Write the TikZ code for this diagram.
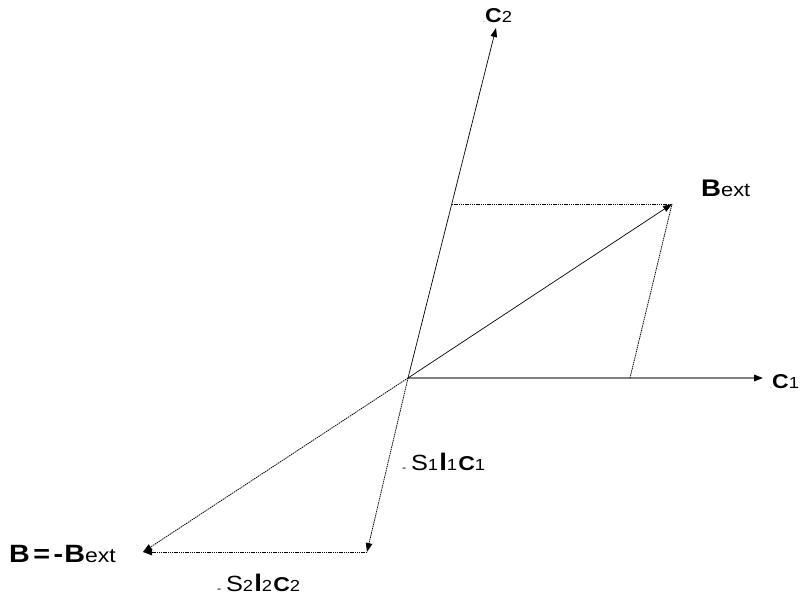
\documentclass[tikz,border=0pt]{standalone}
\usepackage{fontspec}
\setmainfont{Liberation Sans}
\usetikzlibrary{arrows.meta, positioning}
\definecolor{axisgray}{RGB}{128,128,128}
\tikzset{
    axis/.style={draw=axisgray, line width=1.6pt, -{Triangle[length=9pt,width=6.5pt,color=black]}},
    vec/.style={draw=black, line width=0.7pt, -{Triangle[length=9pt,width=6.5pt]}},
    proj/.style={draw=black, line width=0.8pt, dash pattern=on 1.4pt off 0.8pt},
    projvec/.style={proj, -{Triangle[length=9pt,width=6.5pt]}},
    lab/.style={inner sep=0pt, xscale=1.15}
}
\newcommand{\bigC}{{\fontsize{20}{20}\selectfont\bfseries C}}
\newcommand{\bigB}{{\fontsize{25}{25}\selectfont\bfseries B}}
\newcommand{\lowsub}[1]{{\fontsize{16}{16}\selectfont #1}}
\newcommand{\extsub}{{\fontsize{19}{19}\selectfont ext}}
\newcommand{\tinydot}{{\fontsize{6}{6}\selectfont .}}
\newcommand{\lowminus}{{\fontsize{11}{11}\selectfont\raisebox{-1.5pt}{-}}}
\newcommand{\slc}[1]{\lowminus\hspace{4pt}{\fontsize{22}{22}\selectfont S}\lowsub{#1}\hspace{1pt}{\fontsize{24}{24}\selectfont\bfseries l}\lowsub{#1}\hspace{1pt}\bigC\lowsub{#1}}
\begin{document}
\begin{tikzpicture}[x=1pt, y=-1pt]
    \useasboundingbox (0,0) rectangle (801,604);

    \coordinate (o) at (408,378);
    \coordinate (c1tip) at (763,378);
    \coordinate (c2tip) at (496,28);
    \coordinate (bext) at (672,204);
    \coordinate (onc2) at (452,204);
    \coordinate (onc1) at (630,378);
    \coordinate (foot) at (367,552);
    \coordinate (bneg) at (143,552);

    % axes and field
    \draw[axis] (o) -- (c1tip);
    \draw[vec] (o) -- (c2tip);
    \draw[vec] (o) -- (bext);
    \draw[proj] (onc2) -- (bext);
    \draw[proj] (onc1) -- (bext);

    % reversed field
    \draw[projvec] (o) -- (bneg);
    \draw[projvec] (o) -- (foot);
    \draw[projvec] (foot) -- (bneg);

    \node[lab, anchor=base west] (c1lab) at (770,388) {\tinydot\bigC\lowsub{1}};
    \node[lab, anchor=base west] (c2lab) at (483,23) {\tinydot\bigC\lowsub{2}};
    \node[lab, anchor=base west] (bextlab) at (701,197) {{\fontsize{24}{24}\selectfont\bfseries B}\extsub};
    \node[lab, anchor=base west] (s1lab) at (402,470) {\slc{1}};
    \node[lab, anchor=base west] (s2lab) at (217,591) {\slc{2}};
    \node[lab, anchor=base west] (blab) at (9,562) {\bigB\hspace{3pt}{\fontsize{25}{25}\selectfont\bfseries =}\hspace{3pt}{\fontsize{25}{25}\selectfont\bfseries -}\hspace{1pt}\bigB{\fontsize{20}{20}\selectfont ext}};
\end{tikzpicture}
\end{document}
